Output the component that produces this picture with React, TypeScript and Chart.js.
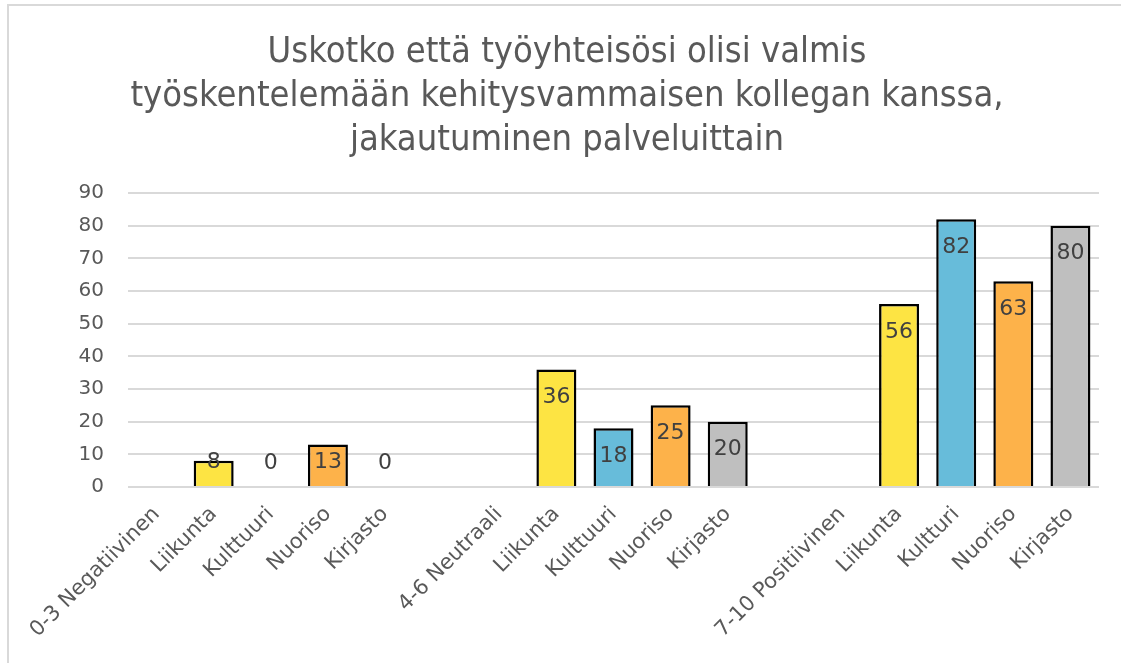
import React, { useEffect, useRef } from "react";
import { Chart, registerables } from "chart.js";

Chart.register(...registerables);

const titleLines = [
  "Uskotko että työyhteisösi olisi valmis",
  "työskentelemään kehitysvammaisen kollegan kanssa,",
  "jakautuminen palveluittain",
];

const categories = [
  "0-3 Negatiivinen", "Liikunta", "Kulttuuri", "Nuoriso", "Kirjasto", "",
  "4-6 Neutraali", "Liikunta", "Kulttuuri", "Nuoriso", "Kirjasto", "",
  "7-10 Positiivinen", "Liikunta", "Kultturi", "Nuoriso", "Kirjasto",
];

const values: (number | null)[] = [
  null, 8, 0, 13, 0, null,
  null, 36, 18, 25, 20, null,
  null, 56, 82, 63, 80,
];

const serviceColors: Record<string, string> = {
  Liikunta: "#FDE443",
  Kulttuuri: "#67BCDA",
  Kultturi: "#67BCDA",
  Nuoriso: "#FDB24A",
  Kirjasto: "#BFBFBF",
};

const yTicks = [0, 10, 20, 30, 40, 50, 60, 70, 80, 90];

const TITLE_FONT = "'DejaVu Sans Condensed', 'DejaVu Sans', sans-serif";
const FONT = "'DejaVu Sans', Verdana, sans-serif";

const framePlugin = {
  id: "frameAndTitle",
  beforeDraw(chart: any) {
    const ctx = chart.ctx;
    ctx.save();
    ctx.fillStyle = "#ffffff";
    ctx.fillRect(0, 0, chart.width, chart.height);
    ctx.fillStyle = "#d9d9d9";
    ctx.fillRect(7, 4, 2, chart.height - 4);
    ctx.fillRect(7, 4, chart.width - 7, 2);
    ctx.fillStyle = "#595959";
    ctx.font = `36px ${TITLE_FONT}`;
    ctx.textAlign = "center";
    ctx.textBaseline = "alphabetic";
    const baselines = [62, 106, 150];
    titleLines.forEach((t, i) => ctx.fillText(t, 567, baselines[i]));
    ctx.restore();
  },
};

const labelPlugin = {
  id: "valueLabels",
  afterDatasetsDraw(chart: any) {
    const ctx = chart.ctx;
    const meta = chart.getDatasetMeta(0);
    ctx.save();
    ctx.fillStyle = "#404040";
    ctx.font = `22px ${FONT}`;
    ctx.textAlign = "center";
    ctx.textBaseline = "middle";
    meta.data.forEach((el: any, i: number) => {
      const v = values[i];
      if (v === null || v === undefined) return;
      const y = Math.min(el.y + 28, el.base - 24);
      ctx.fillText(String(v), el.x, y);
    });
    ctx.restore();
  },
};

export default function App() {
  const ref = useRef<HTMLCanvasElement>(null);
  useEffect(() => {
    if (!ref.current) return;
    const chart = new Chart(ref.current, {
      type: "bar",
      data: {
        labels: categories,
        datasets: [
          {
            data: values as any,
            backgroundColor: categories.map((c) => serviceColors[c] || "#ffffff"),
            borderColor: "#000000",
            borderWidth: 2.5,
            barPercentage: 0.7,
            categoryPercentage: 1,
          },
        ],
      },
      options: {
        animation: false,
        responsive: false,
        maintainAspectRatio: false,
        layout: { padding: { top: 193, left: 0, right: 22, bottom: 0 } },
        plugins: {
          legend: { display: false },
          title: { display: false },
          tooltip: { enabled: false },
        },
        scales: {
          x: {
            grid: { display: false, drawTicks: false },
            border: { display: false },
            ticks: {
              autoSkip: false,
              maxRotation: 45,
              minRotation: 45,
              color: "#595959",
              font: { family: FONT, size: 21 },
              padding: 15,
            },
            afterFit(scale: any) {
              scale.height = 176;
            },
          },
          y: {
            min: 0,
            max: 90,
            afterBuildTicks(scale: any) {
              scale.ticks = yTicks.map((v) => ({ value: v }));
            },
            grid: { color: "#d9d9d9", lineWidth: 2, drawTicks: false },
            border: { display: false },
            ticks: {
              color: "#595959",
              font: { family: FONT, size: 20 },
              padding: 24,
            },
            afterFit(scale: any) {
              scale.width = 128;
            },
          },
        },
      },
      plugins: [framePlugin, labelPlugin],
    });
    return () => chart.destroy();
  }, []);
  return (
    <div style={{ position: "absolute", left: 0, top: 0, width: 1121, height: 663 }}>
      <canvas ref={ref} width={1121} height={663} />
    </div>
  );
}
